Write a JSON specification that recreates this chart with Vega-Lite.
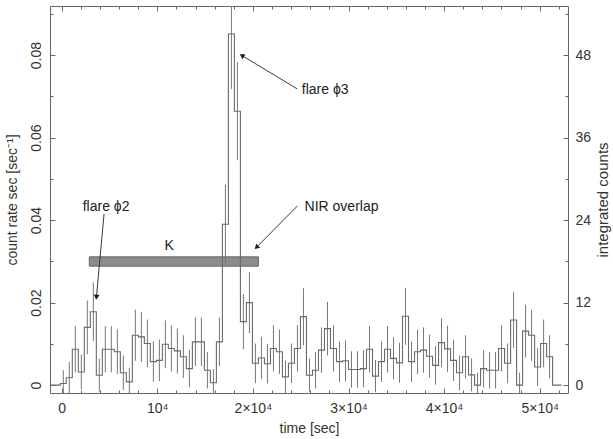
{
  "$schema": "https://vega.github.io/schema/vega-lite/v6.json",
  "autosize": "none",
  "width": 518,
  "height": 387,
  "padding": {"left": 50, "top": 6, "right": 45, "bottom": 46},
  "background": "white",
  "config": {
    "view": {"stroke": null},
    "axis": {
      "grid": false,
      "domainColor": "#666666",
      "tickColor": "#666666",
      "labelColor": "#333333",
      "titleColor": "#333333",
      "labelFont": "Liberation Sans",
      "titleFont": "Liberation Sans",
      "labelFontSize": 14,
      "titleFontSize": 14,
      "titleFontWeight": "normal"
    }
  },
  "datasets": {
    "bins": [
      {"t": -1224, "rate": 0},
      {"t": -460, "rate": 0},
      {"t": 168, "rate": 0.0004, "err": 0.0032},
      {"t": 796, "rate": 0.0018, "err": 0.0038},
      {"t": 1424, "rate": 0.0087, "err": 0.0056},
      {"t": 2052, "rate": 0.0032, "err": 0.0042},
      {"t": 2680, "rate": 0.014, "err": 0.0065},
      {"t": 3308, "rate": 0.0178, "err": 0.0071},
      {"t": 3936, "rate": 0.0024, "err": 0.004},
      {"t": 4564, "rate": 0.0087, "err": 0.0056},
      {"t": 5192, "rate": 0.0087, "err": 0.0056},
      {"t": 5820, "rate": 0.0081, "err": 0.0054},
      {"t": 6448, "rate": 0.003, "err": 0.0042},
      {"t": 7076, "rate": 0.0008, "err": 0.0034},
      {"t": 7704, "rate": 0.0121, "err": 0.0062},
      {"t": 8332, "rate": 0.0117, "err": 0.0061},
      {"t": 8960, "rate": 0.0101, "err": 0.0058},
      {"t": 9588, "rate": 0.0057, "err": 0.0049},
      {"t": 10216, "rate": 0.006, "err": 0.005},
      {"t": 10844, "rate": 0.0099, "err": 0.0058},
      {"t": 11472, "rate": 0.0089, "err": 0.0056},
      {"t": 12100, "rate": 0.0083, "err": 0.0055},
      {"t": 12728, "rate": 0.0069, "err": 0.0052},
      {"t": 13356, "rate": 0.004, "err": 0.0045},
      {"t": 13984, "rate": 0.0105, "err": 0.0059},
      {"t": 14612, "rate": 0.0105, "err": 0.0059},
      {"t": 15240, "rate": 0.0036, "err": 0.0044},
      {"t": 15868, "rate": 0.0006, "err": 0.0033},
      {"t": 16496, "rate": 0.0105, "err": 0.0059},
      {"t": 17124, "rate": 0.039, "err": 0.0096},
      {"t": 17752, "rate": 0.0851, "err": 0.0133},
      {"t": 18380, "rate": 0.0664, "err": 0.0119},
      {"t": 19008, "rate": 0.0154, "err": 0.0067},
      {"t": 19636, "rate": 0.02, "err": 0.0074},
      {"t": 20264, "rate": 0.0053, "err": 0.0048},
      {"t": 20892, "rate": 0.0066, "err": 0.0051},
      {"t": 21520, "rate": 0.0052, "err": 0.0048},
      {"t": 22148, "rate": 0.0089, "err": 0.0056},
      {"t": 22776, "rate": 0.0081, "err": 0.0054},
      {"t": 23404, "rate": 0.002, "err": 0.0039},
      {"t": 24032, "rate": 0.0053, "err": 0.0048},
      {"t": 24660, "rate": 0.0089, "err": 0.0056},
      {"t": 25288, "rate": 0.0166, "err": 0.0069},
      {"t": 25916, "rate": 0.0024, "err": 0.004},
      {"t": 26544, "rate": 0.0036, "err": 0.0044},
      {"t": 27172, "rate": 0.0085, "err": 0.0055},
      {"t": 27800, "rate": 0.0137, "err": 0.0065},
      {"t": 28428, "rate": 0.0089, "err": 0.0056},
      {"t": 29056, "rate": 0.0057, "err": 0.0049},
      {"t": 29684, "rate": 0.0059, "err": 0.005},
      {"t": 30312, "rate": 0.0038, "err": 0.0044},
      {"t": 30940, "rate": 0.0038, "err": 0.0044},
      {"t": 31568, "rate": 0.004, "err": 0.0045},
      {"t": 32196, "rate": 0.0087, "err": 0.0056},
      {"t": 32824, "rate": 0.0022, "err": 0.0039},
      {"t": 33452, "rate": 0.0057, "err": 0.0049},
      {"t": 34080, "rate": 0.0087, "err": 0.0056},
      {"t": 34708, "rate": 0.0065, "err": 0.0051},
      {"t": 35336, "rate": 0.0054, "err": 0.0048},
      {"t": 35964, "rate": 0.0167, "err": 0.0069},
      {"t": 36592, "rate": 0.0057, "err": 0.0049},
      {"t": 37220, "rate": 0.0081, "err": 0.0054},
      {"t": 37848, "rate": 0.0085, "err": 0.0055},
      {"t": 38476, "rate": 0.007, "err": 0.0052},
      {"t": 39104, "rate": 0.0048, "err": 0.0047},
      {"t": 39732, "rate": 0.0103, "err": 0.0059},
      {"t": 40360, "rate": 0.0088, "err": 0.0056},
      {"t": 40988, "rate": 0.006, "err": 0.005},
      {"t": 41616, "rate": 0.003, "err": 0.0042},
      {"t": 42244, "rate": 0.0069, "err": 0.0052},
      {"t": 42872, "rate": 0.0025, "err": 0.004},
      {"t": 43500, "rate": 0.0, "err": 0.003},
      {"t": 44128, "rate": 0.004, "err": 0.0045},
      {"t": 44756, "rate": 0.0036, "err": 0.0044},
      {"t": 45384, "rate": 0.0036, "err": 0.0044},
      {"t": 46012, "rate": 0.0089, "err": 0.0056},
      {"t": 46640, "rate": 0.0053, "err": 0.0048},
      {"t": 47268, "rate": 0.0158, "err": 0.0068},
      {"t": 47896, "rate": 0.0, "err": 0.003},
      {"t": 48524, "rate": 0.0131, "err": 0.0064},
      {"t": 49152, "rate": 0.0121, "err": 0.0062},
      {"t": 49780, "rate": 0.0044, "err": 0.0046},
      {"t": 50408, "rate": 0.0101, "err": 0.0058},
      {"t": 51036, "rate": 0.0069, "err": 0.0052},
      {"t": 51664, "rate": 0},
      {"t": 52292, "rate": 0}
    ],
    "band": [
      {"band": "K", "start": 2890, "end": 20580, "low": 0.02885, "high": 0.0311}
    ],
    "notes": [
      {"text": "K", "t": 11230, "rate": 0.0337},
      {"text": "flare ϕ2", "t": 4640, "rate": 0.0432},
      {"text": "flare ϕ3", "t": 27560, "rate": 0.0715},
      {"text": "NIR overlap", "t": 29270, "rate": 0.0432}
    ],
    "arrows": [
      {"name": "phi2", "t0": 4430, "r0": 0.0415, "t1": 3630, "r1": 0.0213},
      {"name": "phi3", "t0": 24640, "r0": 0.0718, "t1": 18850, "r1": 0.0799},
      {"name": "nir", "t0": 24640, "r0": 0.0434, "t1": 20370, "r1": 0.0334}
    ]
  },
  "resolve": {"axis": {"x": "independent", "y": "independent"}},
  "layer": [
    {
      "data": {"name": "band"},
      "mark": {"type": "rect", "fill": "#8c8c8c", "stroke": "#666666", "strokeWidth": 1},
      "encoding": {
        "x": {
          "field": "start", "type": "quantitative",
          "scale": {"domain": [-1224, 52960], "nice": false, "zero": false},
          "axis": {
            "orient": "bottom", "title": "time [sec]", "ticks": false,
            "values": [0, 10000, 20000, 30000, 40000, 50000],
            "labelExpr": "datum.value == 0 ? '0' : datum.value == 10000 ? '10⁴' : (datum.value / 10000) + '×10⁴'",
            "labelPadding": 8, "titlePadding": 6, "labelFlush": false
          }
        },
        "x2": {"field": "end"},
        "y": {
          "field": "low", "type": "quantitative",
          "scale": {"domain": [-0.0019, 0.0919], "nice": false, "zero": false, "clamp": true},
          "axis": {
            "orient": "left", "title": "count rate sec [sec⁻¹]", "ticks": false,
            "values": [0, 0.02, 0.04, 0.06, 0.08],
            "labelExpr": "datum.value == 0 ? '0' : format(datum.value, '.2f')",
            "labelAngle": 270, "labelAlign": "center", "labelBaseline": "bottom",
            "labelPadding": 7, "titlePadding": 10, "labelFlush": false
          }
        },
        "y2": {"field": "high"}
      }
    },
    {
      "data": {"name": "bins"},
      "transform": [{"filter": "isValid(datum.err)"}],
      "mark": {"type": "errorbar", "color": "#777777", "thickness": 1},
      "encoding": {
        "x": {
          "field": "t", "type": "quantitative",
          "scale": {"domain": [-1224, 52960], "nice": false, "zero": false},
          "axis": {
            "orient": "bottom", "title": null, "labels": false, "domain": false,
            "values": [0, 10000, 20000, 30000, 40000, 50000], "tickSize": -5
          }
        },
        "y": {
          "field": "rate", "type": "quantitative",
          "scale": {"domain": [-0.0019, 0.0919], "nice": false, "zero": false, "clamp": true},
          "axis": {
            "orient": "left", "title": null, "labels": false, "domain": false,
            "values": [0, 0.02, 0.04, 0.06, 0.08], "tickSize": -5
          }
        },
        "yError": {"field": "err"}
      }
    },
    {
      "data": {"name": "bins"},
      "mark": {"type": "line", "interpolate": "step", "color": "#6a6a6a", "strokeWidth": 1.1},
      "encoding": {
        "x": {
          "field": "t", "type": "quantitative",
          "scale": {"domain": [-1224, 52960], "nice": false, "zero": false},
          "axis": {
            "orient": "bottom", "title": null, "labels": false, "domain": false,
            "values": [2000, 4000, 6000, 8000, 12000, 14000, 16000, 18000, 22000, 24000, 26000, 28000, 32000, 34000, 36000, 38000, 42000, 44000, 46000, 48000, 52000],
            "tickSize": -3
          }
        },
        "y": {
          "field": "rate", "type": "quantitative",
          "scale": {"domain": [-0.0019, 0.0919], "nice": false, "zero": false, "clamp": true},
          "axis": {
            "orient": "left", "title": null, "labels": false, "domain": false,
            "values": [0.01, 0.03, 0.05, 0.07, 0.09], "tickSize": -3
          }
        }
      }
    },
    {
      "data": {"name": "arrows"},
      "mark": {"type": "rule", "color": "#3a3a3a", "strokeWidth": 1},
      "encoding": {
        "x": {
          "field": "t0", "type": "quantitative",
          "scale": {"domain": [-1224, 52960], "nice": false, "zero": false},
          "axis": {
            "orient": "top", "title": null, "labels": false,
            "values": [0, 10000, 20000, 30000, 40000, 50000], "tickSize": -5
          }
        },
        "x2": {"field": "t1"},
        "y": {
          "field": "r0", "type": "quantitative",
          "scale": {"domain": [-0.0019, 0.0919], "nice": false, "zero": false, "clamp": true},
          "axis": {
            "orient": "right", "title": "integrated counts", "ticks": false,
            "values": [0, 0.02, 0.04, 0.06, 0.08],
            "labelExpr": "round(datum.value * 600) + ''",
            "labelPadding": 7, "titlePadding": 20, "titleAngle": 270, "titleFontSize": 15, "labelFlush": false
          }
        },
        "y2": {"field": "r1"}
      }
    },
    {
      "data": {"name": "notes"},
      "mark": {"type": "text", "font": "Liberation Sans", "fontSize": 14, "color": "#222222", "align": "center", "baseline": "middle"},
      "encoding": {
        "x": {
          "field": "t", "type": "quantitative",
          "scale": {"domain": [-1224, 52960], "nice": false, "zero": false},
          "axis": {
            "orient": "top", "title": null, "labels": false, "domain": false,
            "values": [2000, 4000, 6000, 8000, 12000, 14000, 16000, 18000, 22000, 24000, 26000, 28000, 32000, 34000, 36000, 38000, 42000, 44000, 46000, 48000, 52000],
            "tickSize": -3
          }
        },
        "y": {
          "field": "rate", "type": "quantitative",
          "scale": {"domain": [-0.0019, 0.0919], "nice": false, "zero": false, "clamp": true},
          "axis": {
            "orient": "right", "title": null, "labels": false, "domain": false,
            "values": [0, 0.02, 0.04, 0.06, 0.08], "tickSize": -5
          }
        },
        "text": {"field": "text"}
      }
    },
    {
      "data": {"name": "arrows"},
      "transform": [{"filter": "datum.name == 'phi2'"}],
      "mark": {"type": "point", "shape": "triangle-up", "filled": true, "color": "#1a1a1a", "size": 32, "angle": 185, "opacity": 1},
      "encoding": {
        "x": {
          "field": "t1", "type": "quantitative",
          "scale": {"domain": [-1224, 52960], "nice": false, "zero": false}, "axis": null
        },
        "y": {
          "field": "r1", "type": "quantitative",
          "scale": {"domain": [-0.0019, 0.0919], "nice": false, "zero": false, "clamp": true},
          "axis": {
            "orient": "right", "title": null, "labels": false, "domain": false,
            "values": [0.01, 0.03, 0.05, 0.07, 0.09], "tickSize": -3
          }
        }
      }
    },
    {
      "data": {"name": "arrows"},
      "transform": [{"filter": "datum.name == 'phi3'"}],
      "mark": {"type": "point", "shape": "triangle-up", "filled": true, "color": "#1a1a1a", "size": 32, "angle": 301, "opacity": 1},
      "encoding": {
        "x": {"field": "t1", "type": "quantitative", "scale": {"domain": [-1224, 52960], "nice": false, "zero": false}, "axis": null},
        "y": {"field": "r1", "type": "quantitative", "scale": {"domain": [-0.0019, 0.0919], "nice": false, "zero": false, "clamp": true}, "axis": null}
      }
    },
    {
      "data": {"name": "arrows"},
      "transform": [{"filter": "datum.name == 'nir'"}],
      "mark": {"type": "point", "shape": "triangle-up", "filled": true, "color": "#1a1a1a", "size": 32, "angle": 225, "opacity": 1},
      "encoding": {
        "x": {"field": "t1", "type": "quantitative", "scale": {"domain": [-1224, 52960], "nice": false, "zero": false}, "axis": null},
        "y": {"field": "r1", "type": "quantitative", "scale": {"domain": [-0.0019, 0.0919], "nice": false, "zero": false, "clamp": true}, "axis": null}
      }
    }
  ]
}
